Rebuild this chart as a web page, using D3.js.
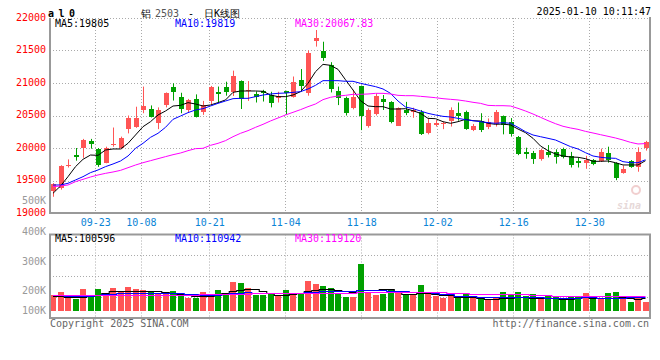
<!DOCTYPE html>
<html><head><meta charset="utf-8">
<script src="https://cdn.jsdelivr.net/npm/d3@7"></script>
<style>
body{margin:0;background:#fff}
svg{display:block}
text{font-family:"DejaVu Sans Mono",monospace;font-size:10px}
</style>
</head><body>
<svg id="c" width="660" height="360"></svg>
<script>
const dates = ["09-11","09-12","09-13","09-18","09-19","09-20","09-23","09-24","09-25","09-26","09-27","09-30",
"10-08","10-09","10-10","10-11","10-14","10-15","10-16","10-17","10-18","10-21","10-22","10-23","10-24","10-25","10-28","10-29","10-30","10-31",
"11-01","11-04","11-05","11-06","11-07","11-08","11-11","11-12","11-13","11-14","11-15","11-18","11-19","11-20","11-21","11-22","11-25","11-26","11-27","11-28","11-29",
"12-02","12-03","12-04","12-05","12-06","12-09","12-10","12-11","12-12","12-13","12-16","12-17","12-18","12-19","12-20","12-23","12-24","12-25","12-26","12-27","12-30","12-31",
"01-02","01-03","01-06","01-07","01-08","01-09","01-10"];
const open  = [19340,19380,19720,19895,19995,20105,19985,19775,20050,19995,20290,20320,20590,20600,20380,20660,20945,20790,20585,20755,
20560,20730,20865,20945,20865,21035,20870,20830,20875,20815,20765,20875,20790,21045,20850,21650,21495,21275,20875,20765,
20620,20960,20340,20525,20755,20715,20345,20585,20550,20560,20225,20360,20365,20420,20535,20555,20275,20415,20330,20365,
20490,20395,20175,19945,19925,19825,19935,19940,19990,19880,19800,19765,19810,19800,19925,19775,19620,19800,19705,20005];
const high  = [19460,19735,19825,20000,20140,20140,20000,20020,20315,20175,20500,20635,20945,20655,20625,20855,20995,20850,20755,20825,
20725,20955,20945,21020,21190,21040,21030,20870,20895,20865,20865,20880,21100,21215,21500,21815,21635,21320,20945,20790,
20895,20960,20610,20840,20815,20720,20625,20710,20620,20585,20445,20430,20400,20625,20700,20575,20370,20535,20455,20585,
20500,20460,20185,20005,19955,19990,20045,19980,20005,19940,19850,19880,19830,19990,20020,19780,19730,19815,20010,20110];
const low   = [19250,19360,19700,19805,19850,19990,19710,19765,20020,19980,20225,20310,20535,20470,20290,20625,20730,20535,20545,20470,
20510,20675,20700,20805,20800,20600,20725,20700,20715,20625,20700,20515,20775,20865,20805,21560,21340,20855,20660,20500,
20595,20275,20313,20500,20585,20380,20345,20505,20465,20200,20210,20330,20290,20330,20420,20280,20260,20245,20290,20330,
20210,20175,19890,19835,19755,19805,19855,19760,19840,19700,19700,19680,19735,19785,19775,19505,19605,19695,19635,19960];
const close = [19450,19720,19740,19860,20120,20055,19740,19995,20060,20160,20460,20460,20640,20480,20585,20840,20865,20595,20740,20480,
20660,20945,20835,20865,21115,20750,20895,20780,20850,20700,20800,20850,21020,20955,21465,21690,21390,20910,20765,20545,
20790,20495,20585,20805,20715,20405,20610,20545,20585,20215,20380,20385,20385,20585,20490,20300,20340,20275,20400,20560,
20355,20210,19905,19915,19835,19975,19885,19860,19865,19740,19775,19815,19760,19940,19810,19540,19675,19715,19940,20085];
const volumeK = [126,150,106,94,174,120,174,142,182,158,190,174,166,154,138,138,158,138,102,102,
150,126,166,126,232,224,184,128,128,142,128,168,128,142,240,214,200,182,136,112,
112,376,147,128,136,168,147,136,128,208,136,120,102,120,115,134,110,115,88,107,
150,136,150,123,134,110,120,115,96,115,110,142,94,94,142,150,110,70,115,70];
const ma5 = [19303,19416,19559,19713,19826,19892,19887,19969,19985,19985,20072,20200,20328,20405,20508,20569,20646,20656,20698,20677,
20646,20662,20698,20739,20856,20877,20877,20877,20872,20815,20790,20790,20815,20867,20995,21174,21287,21272,21210,21050,
20892,20728,20646,20636,20636,20600,20600,20605,20574,20533,20456,20451,20405,20380,20405,20441,20420,20415,20380,20364,
20369,20354,20292,20236,20149,20031,19959,19908,19877,19862,19857,19836,19795,19795,19800,19774,19739,19739,19739,19805];
const ma10 = [19431,19431,19457,19508,19559,19621,19662,19713,19754,19800,19877,19995,20072,20164,20226,20318,20441,20492,20544,20585,
20605,20646,20687,20723,20759,20764,20764,20790,20815,20831,20841,20846,20856,20867,20908,20964,21036,21036,21036,21026,
21026,20995,20969,20944,20908,20841,20723,20631,20605,20569,20533,20508,20487,20477,20456,20436,20420,20405,20390,20380,
20390,20380,20318,20251,20200,20174,20149,20123,20072,20021,19985,19928,19877,19857,19846,19841,19790,19774,19774,19819];
const ma30 = [19405,19416,19431,19482,19518,19554,19585,19610,19631,19656,19697,19738,19774,19805,19836,19867,19897,19923,19959,19990,
19995,20041,20072,20113,20174,20226,20267,20318,20364,20416,20462,20508,20549,20590,20636,20677,20744,20780,20800,20810,
20826,20826,20831,20841,20841,20831,20810,20805,20805,20795,20785,20774,20759,20749,20739,20723,20703,20687,20656,20651,
20651,20646,20610,20569,20523,20472,20421,20374,20334,20308,20287,20256,20231,20205,20180,20154,20123,20087,20062,20067.83];
const vma5 = [120,120,115,115,115,120,128,146,157,160,162,162,160,157,155,150,142,136,128,120,
117,123,128,142,155,165,173,176,160,144,131,128,133,142,155,168,176,176,168,157,
150,163,165,165,171,176,160,133,133,142,142,133,128,128,112,110,110,104,99,96,
101,107,115,112,107,101,104,107,96,96,107,110,107,101,101,104,110,101,96,100.596];
const vma10 = [128,128,123,120,120,123,128,133,139,144,147,147,147,147,147,147,144,142,139,133,
128,128,128,133,142,147,152,147,147,147,147,147,147,147,150,152,155,155,155,157,
160,165,168,168,165,160,157,155,152,150,150,144,139,133,123,120,117,115,112,110,
110,112,112,112,110,110,107,107,107,107,107,110,110,107,107,107,107,108,109,110.942];
const vma30 = [128,128,128,128,128,128,128,128,128,128,128,128,128,128,128,128,128,128,128,128,
133,133,133,133,133,133,133,147,147,147,147,147,147,147,147,147,147,147,147,147,
147,150,150,150,150,150,150,150,150,150,150,150,150,147,147,147,136,136,136,136,
136,136,136,136,128,128,128,120,120,120,120,120,120,120,120,120,120,120,120,119.12];
const priceTicks = [22000,21500,21000,20500,20000,19500,19000];
const dateTicks = ["09-23","10-08","10-21","11-04","11-18","12-02","12-16","12-30"];
const volTickLabels = ["400K","300K","200K","100K"];
const legendPrice = ["MA5:19805","MA10:19819","MA30:20067.83"];
const legendVol = ["MA5:100596","MA10:110942","MA30:119120"];

const svg = d3.select("#c");
const L=50, R=650, PT=18, PB=213, VT=234.5, VB=318, VBASE=311;
const RED="#ff5555", GREEN="#00a000", GRID="#aaa", FRAME="#999";
const maColors = ["#000","#0000ff","#ff00ff"];

const x  = d3.scalePoint().domain(dates).range([53,645.5]);
const xg = d3.scalePoint().domain(dates).range([49.7,650.1]);
const y  = d3.scaleLinear().domain([19000,22000]).range([PB,PT]);
const yv = d3.scaleLinear().domain([0,608]).range([VBASE,VT]);
const px = d => Math.round(x(d));

const defs = svg.append("defs");
defs.append("clipPath").attr("id","cp").append("rect").attr("x",L+1).attr("y",PT).attr("width",R-L-2).attr("height",PB-PT);
defs.append("clipPath").attr("id","cv").append("rect").attr("x",L+1).attr("y",VT).attr("width",R-L-2).attr("height",VB-VT);

// grids
const g = svg.append("g").attr("stroke",GRID).attr("stroke-dasharray","1,2").attr("stroke-width",1);
priceTicks.filter(t=>t!==19000).forEach(t=>{
  const yy = Math.round(y(t))+0.5;
  g.append("line").attr("x1",L).attr("x2",R).attr("y1",yy).attr("y2",yy);
});
[0.25,0.5,0.75].forEach(f=>{
  const yy = Math.round(VT+(VB-VT)*f)+0.5;
  g.append("line").attr("x1",L).attr("x2",R).attr("y1",yy).attr("y2",yy);
});
dateTicks.forEach(d=>{
  const xx = Math.round(xg(d))+0.5;
  g.append("line").attr("x1",xx).attr("x2",xx).attr("y1",PT).attr("y2",PB);
  g.append("line").attr("x1",xx).attr("x2",xx).attr("y1",VT).attr("y2",VB+3);
});

// watermark
const wm = svg.append("g").attr("opacity",0.6);
wm.append("circle").attr("cx",636).attr("cy",190).attr("r",4).attr("fill","none").attr("stroke","#e8b0b0").attr("stroke-width",2);
wm.append("text").attr("x",617).attr("y",209).attr("font-family","DejaVu Sans").attr("font-size",17).attr("font-style","italic").attr("font-weight","bold").attr("fill","#d6c0c0").text("sina");

// candles
const cg = svg.append("g").attr("clip-path","url(#cp)");
dates.forEach((d,i)=>{
  const col = close[i]>=open[i]?RED:GREEN;
  const cx = px(d);
  cg.append("line").attr("x1",cx+0.5).attr("x2",cx+0.5).attr("y1",y(high[i])).attr("y2",y(low[i])).attr("stroke",col).attr("stroke-width",1);
  const y1 = Math.round(y(Math.max(open[i],close[i]))), y2 = Math.round(y(Math.min(open[i],close[i])));
  cg.append("rect").attr("x",cx-2).attr("y",y1).attr("width",5).attr("height",Math.max(1,y2-y1)).attr("fill",col).attr("shape-rendering","crispEdges");
});
[ma5,ma10,ma30].forEach((arr,k)=>{
  const line = d3.line().x((v,i)=>x(dates[i])).y(v=>y(v));
  cg.append("path").attr("d",line(arr)).attr("fill","none").attr("stroke",maColors[k]).attr("stroke-width",1);
});

// volume
const vg = svg.append("g").attr("clip-path","url(#cv)");
dates.forEach((d,i)=>{
  const col = close[i]>=open[i]?RED:GREEN;
  const cx = px(d);
  const top = Math.round(yv(volumeK[i]));
  vg.append("rect").attr("x",cx-3).attr("y",top).attr("width",6).attr("height",VBASE-top).attr("fill",col).attr("shape-rendering","crispEdges");
});
[vma5,vma10,vma30].forEach((arr,k)=>{
  const line = d3.line().curve(d3.curveStep).x((v,i)=>x(dates[i])).y(v=>Math.round(yv(v))+0.5);
  vg.append("path").attr("d",line(arr)).attr("fill","none").attr("stroke",maColors[k]).attr("stroke-width",1.1);
});

// frames
const f = svg.append("g").attr("stroke",FRAME).attr("stroke-width",2).attr("fill","none");
f.append("line").attr("x1",L).attr("x2",L).attr("y1",PT).attr("y2",PB+1);
f.append("line").attr("x1",L).attr("x2",R+1).attr("y1",PB).attr("y2",PB);
f.append("line").attr("x1",R).attr("x2",R).attr("y1",PT-1).attr("y2",PB+1);
f.append("rect").attr("x",L).attr("y",VT).attr("width",R-L).attr("height",VB-VT);

// price axis labels
const ay = svg.append("g").attr("transform",`translate(46,0)`)
  .call(d3.axisLeft(y).tickValues(priceTicks).tickSize(0).tickPadding(0).tickFormat(d3.format("d")));
ay.select(".domain").remove();
ay.selectAll("text").attr("fill","#f00").attr("font-family","DejaVu Sans Mono").attr("font-size",10).attr("dy","0.2em");
svg.append("text").attr("x",46).attr("y",204).attr("text-anchor","end").attr("fill","#999").text("500K");

// date axis
const ax = svg.append("g").attr("transform",`translate(0,216)`)
  .call(d3.axisBottom(xg).tickValues(dateTicks).tickSize(0).tickPadding(3));
ax.select(".domain").remove();
ax.selectAll("text").attr("fill","#0a84d6").attr("font-family","DejaVu Sans Mono").attr("font-size",10);

// volume labels
const volLabelY = [234.5,264.5,294,314];
volTickLabels.forEach((t,i)=>{
  svg.append("text").attr("x",46).attr("y",volLabelY[i]).attr("text-anchor","end").attr("fill","#999").text(t);
});

// legends
const legX = [55,175,295];
legendPrice.forEach((t,i)=>svg.append("text").attr("x",legX[i]).attr("y",27).attr("fill",maColors[i]).text(t));
legendVol.forEach((t,i)=>svg.append("text").attr("x",legX[i]).attr("y",242).attr("fill",maColors[i]).text(t));

// header
svg.append("text").attr("x",48).attr("y",17).attr("font-size",13).attr("font-weight","bold").attr("letter-spacing","-0.8").attr("fill","#000").text("a l 0");
svg.append("text").attr("x",141).attr("y",17).attr("font-family","Noto Sans CJK SC").attr("font-size",14).attr("fill","#000").text("铝");
svg.append("text").attr("x",155).attr("y",17).attr("font-family","DejaVu Sans").attr("font-size",11).attr("fill","#555").text("2503");
svg.append("text").attr("x",188).attr("y",17).attr("font-family","DejaVu Sans").attr("font-size",12).attr("fill","#000").text("-");
svg.append("text").attr("x",204).attr("y",17).attr("font-family","Noto Sans CJK SC").attr("font-size",13.5).attr("fill","#000").text("日K线图");
svg.append("text").attr("x",651).attr("y",15).attr("text-anchor","end").attr("fill","#000").text("2025-01-10 10:11:47");

// footer
svg.append("text").attr("x",50).attr("y",327).attr("fill","#666").text("Copyright 2025 SINA.COM");
svg.append("text").attr("x",649).attr("y",327).attr("text-anchor","end").attr("fill","#666").text("http://finance.sina.com.cn");
</script>
</body></html>
